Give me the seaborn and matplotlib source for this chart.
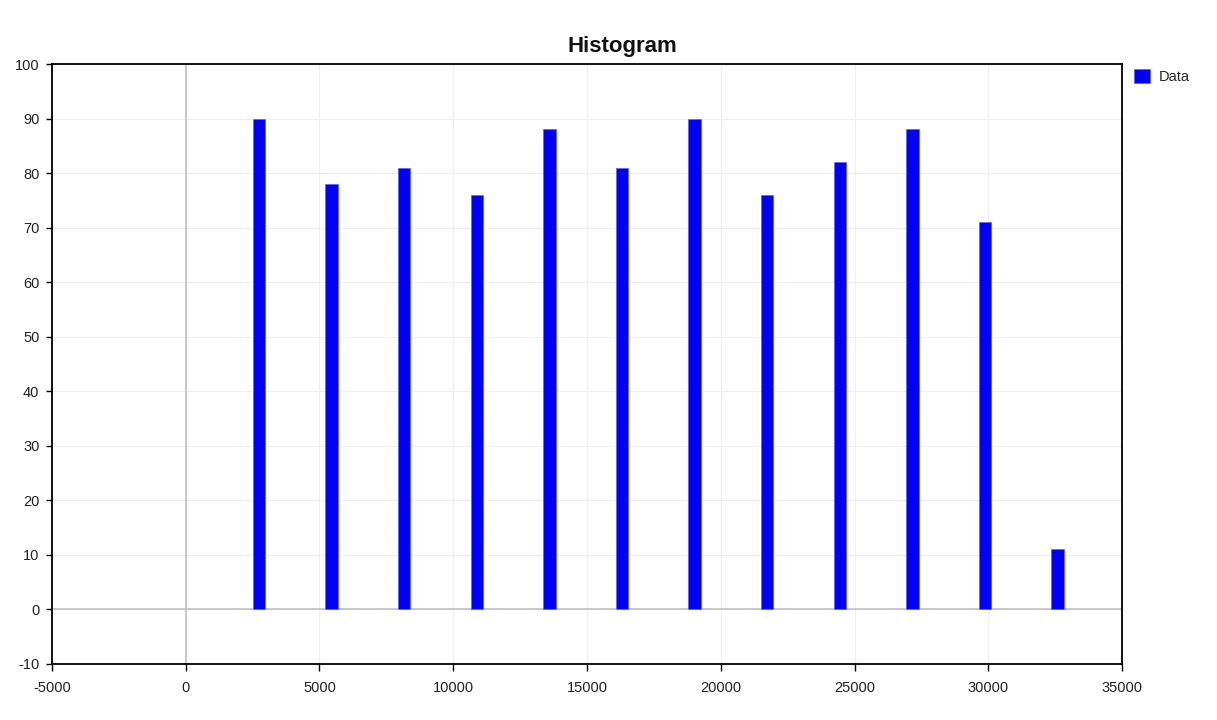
import pandas as pd
import matplotlib.pyplot as plt
import seaborn as sns

# histogram bin centres and counts
bin_centers = [2740, 5450, 8170, 10880, 13600, 16310, 19020, 21740, 24450, 27170, 29880, 32590]
counts = [90, 78, 81, 76, 88, 81, 90, 76, 82, 88, 71, 11]
x_ticks = [-5000, 0, 5000, 10000, 15000, 20000, 25000, 30000, 35000]
y_ticks = [-10, 0, 10, 20, 30, 40, 50, 60, 70, 80, 90, 100]

sns.set_style("white")
plt.rcParams['font.family'] = ['Liberation Sans', 'DejaVu Sans']
plt.rcParams['axes.unicode_minus'] = False

df = pd.DataFrame({'bin': bin_centers, 'count': counts})

fig = plt.figure(figsize=(12.17, 7.2), dpi=100)
ax = fig.add_axes([0.0427, 0.0778, 0.8793, 0.8333])

ax.grid(True, color='#efefef', linewidth=0.8, zorder=0)
ax.axvline(0, color='#c0c0c0', linewidth=1.2, zorder=1)
ax.axhline(0, color='#c0c0c0', linewidth=1.2, zorder=1)

sns.barplot(data=df, x='bin', y='count', native_scale=True, width=0.17,
            color='#0000ff', saturation=1, edgecolor='#6060ff', linewidth=0.5,
            label='Data', ax=ax, zorder=3)

ax.set_xlim(-5000, 35000)
ax.set_ylim(-10, 100)
ax.set_xticks(x_ticks)
ax.set_yticks(y_ticks)
ax.set_xlabel('')
ax.set_ylabel('')
ax.tick_params(axis='x', direction='out', length=5, width=1, color='black',
               labelsize=10.5, pad=7, bottom=True, labelcolor='#222222')
ax.tick_params(axis='y', direction='out', length=4, width=1, color='black',
               labelsize=10.5, pad=5, left=True, labelcolor='#222222')
for spine in ax.spines.values():
    spine.set_color('black')
    spine.set_linewidth(1.3)

fig.text(0.511, 0.928, 'Histogram', fontsize=16, fontweight='bold',
         ha='center', va='baseline', color='#111111')

leg = ax.legend(loc='upper left', bbox_to_anchor=(1.002, 1.008), frameon=False,
                fontsize=10.5, handlelength=1.1, handleheight=1.1, handletextpad=0.6,
                borderaxespad=0.3)

fig.savefig('out.png', dpi=100)
